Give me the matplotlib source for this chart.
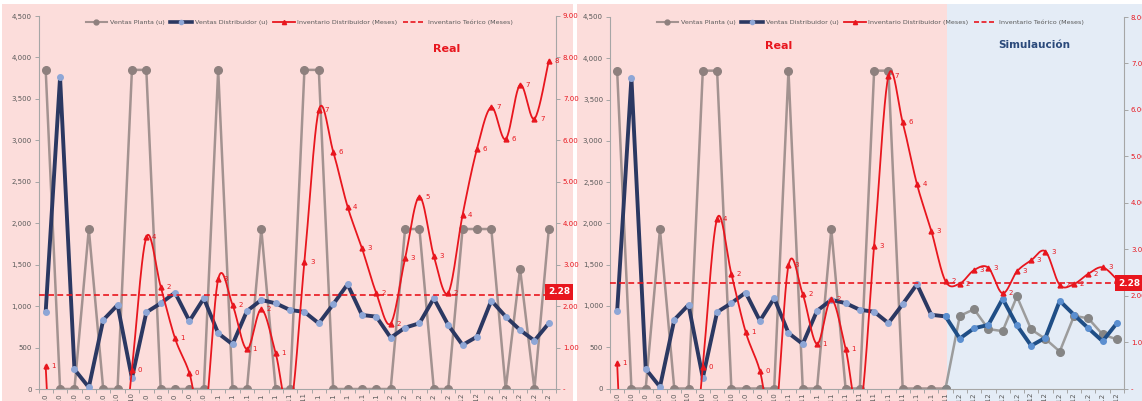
import numpy as np
import matplotlib
matplotlib.use('Agg')
import matplotlib.pyplot as plt
from matplotlib.patches import Rectangle
from matplotlib.lines import Line2D
from matplotlib.ticker import FuncFormatter, MultipleLocator

# --- datos mensuales (36 meses reales) ---
meses = ['ene', 'feb', 'mar', 'abr', 'may', 'jun', 'jul', 'ago', 'sep', 'oct', 'nov', 'dic']
periodos = [m + '-' + a for a in ['10', '11', '12'] for m in meses]

ventas_planta = [3850, 0, 0, 1930, 0, 0, 3850, 3850, 0, 0, 0, 0,
                 3850, 0, 0, 1930, 0, 0, 3850, 3850, 0, 0, 0, 0,
                 0, 1930, 1930, 0, 0, 1930, 1930, 1930, 0, 1450, 0, 1930]
ventas_dist = [933, 3760, 237, 20, 832, 1013, 129, 925, 1034, 1162, 820, 1094,
               672, 539, 941, 1074, 1034, 953, 930, 792, 1022, 1263, 893, 873,
               619, 740, 793, 1094, 772, 531, 631, 1066, 873, 712, 583, 793]
inv_dist = [0.55, -6, -8, -8, -6, -3, 0.46, 3.66, 2.47, 1.22, 0.38, -0.9,
            2.65, 2.03, 0.96, 1.92, 0.86, -0.5, 3.07, 6.73, 5.73, 4.40, 3.40, 2.31,
            1.58, 3.15, 4.64, 3.21, 2.32, 4.20, 5.79, 6.80, 6.03, 7.34, 6.52, 7.92]

# --- simulacion (12 meses que siguen a los primeros 24 reales) ---
sim_planta = [880, 960, 720, 695, 1115, 715, 600, 448, 880, 850, 655, 595]
sim_dist = [605, 730, 770, 1087, 765, 518, 616, 1062, 892, 730, 573, 791]
sim_inv = [2.26, 2.55, 2.60, 2.05, 2.52, 2.76, 2.95, 2.23, 2.25, 2.47, 2.61, 2.35]
n_real2 = 24

inv_teorico = 2.28

W, H = 1142, 401
ROJO = '#E8161E'
ROSA = '#FCDDDB'
CELESTE = '#E4ECF6'
GRIS_EJE = '#A6A6A6'
TXT = '#595959'


def fx(x):
	return x / W


def fy(y):
	return 1 - y / H


def suave(y, n=24):
	# curva suavizada tipo Excel (bezier con puntos de control catmull-rom)
	y = np.asarray(y, float)
	p = np.column_stack([np.arange(len(y), dtype=float), y])
	ext = np.vstack([p[0], p, p[-1]])
	t = np.linspace(0, 1, n)[:, None]
	out = []
	for i in range(len(p) - 1):
		p0, p1, p2, p3 = ext[i], ext[i + 1], ext[i + 2], ext[i + 3]
		c1 = p1 + (p2 - p0) / 6.0
		c2 = p2 - (p3 - p1) / 6.0
		b = (1 - t) ** 3 * p1 + 3 * (1 - t) ** 2 * t * c1 + 3 * (1 - t) * t ** 2 * c2 + t ** 3 * p2
		out.append(b if i == 0 else b[1:])
	b = np.vstack(out)
	return b[:, 0], b[:, 1]


def ejes(caja, ymax_der):
	ax = fig.add_axes(caja)
	ax.patch.set_visible(False)
	ax.set_xlim(-0.5, 35.5)
	ax.set_ylim(0, 4500)
	ax.yaxis.set_major_locator(MultipleLocator(500))
	ax.yaxis.set_major_formatter(FuncFormatter(lambda v, p: '{:,.0f}'.format(v)))
	ax.set_xticks(range(36))
	ax.set_xticklabels(periodos, rotation=90, va='top')
	ax.set_xticks(np.arange(-0.5, 36, 1), minor=True)
	ax.tick_params(axis='x', which='major', length=0, labelsize=5, labelcolor=TXT, pad=3)
	ax.tick_params(axis='x', which='minor', length=3, color=GRIS_EJE, width=0.7)
	ax.tick_params(axis='y', labelsize=5, labelcolor=TXT, length=3, color=GRIS_EJE, width=0.7, pad=2)
	for s in ['top', 'right']:
		ax.spines[s].set_visible(False)
	for s in ['left', 'bottom']:
		ax.spines[s].set_color(GRIS_EJE)
		ax.spines[s].set_linewidth(0.8)

	ax2 = ax.twinx()
	ax2.set_ylim(0, ymax_der)
	ax2.yaxis.set_major_locator(MultipleLocator(1))
	ax2.yaxis.set_major_formatter(FuncFormatter(lambda v, p: '-' if v == 0 else '{:.2f}'.format(v)))
	ax2.tick_params(axis='y', labelsize=5, labelcolor=ROJO, length=3, color=GRIS_EJE, width=0.7, pad=2)
	for s in ['top', 'left', 'bottom']:
		ax2.spines[s].set_visible(False)
	ax2.spines['right'].set_color(GRIS_EJE)
	ax2.spines['right'].set_linewidth(0.8)
	return ax, ax2


def gris(ax, x, y, color='#A39290', mcolor='#8E807E'):
	ax.plot(x, y, color=color, lw=1.8, marker='o', ms=5.5, mfc=mcolor, mec=mcolor, zorder=2)


def azul(ax, x, y, color='#2B3862', mcolor='#8EA6D6'):
	ax.plot(x, y, color=color, lw=2.8, marker='o', ms=4, mfc=mcolor, mec=mcolor, zorder=3)


def inventario(ax2, y):
	xs, ys = suave(y)
	ax2.plot(xs, ys, color=ROJO, lw=1.3, zorder=4)
	x = np.arange(len(y))
	ax2.plot(x, y, ls='none', marker='^', ms=3.5, color=ROJO, zorder=5)
	for i, v in enumerate(y):
		if 0 <= v <= ax2.get_ylim()[1]:
			ax2.annotate('{:.0f}'.format(v), (i, v), xytext=(4, 0), textcoords='offset points',
						 fontsize=5, color=ROJO, va='center', ha='left', zorder=6)
	ax2.axhline(inv_teorico, color=ROJO, lw=1.2, ls=(0, (3.5, 2)), zorder=4)


def leyenda(ax, xc):
	h = [Line2D([], [], color='#A39290', lw=1.5, marker='o', ms=3.5, mfc='#8E807E', mec='#8E807E'),
		 Line2D([], [], color='#2B3862', lw=2.6, marker='o', ms=3, mfc='#8EA6D6', mec='#8EA6D6'),
		 Line2D([], [], color=ROJO, lw=1.3, marker='^', ms=3),
		 Line2D([], [], color=ROJO, lw=1.2, ls=(0, (3, 1.5)))]
	t = ['Ventas Planta (u)', 'Ventas Distribuidor (u)', 'Inventario Distribuidor (Meses)', 'Inventario Teórico (Meses)']
	leg = fig.legend(h, t, loc='center', bbox_to_anchor=(fx(xc), fy(22)), ncol=4, frameon=False,
					 fontsize=4.6, handlelength=3.4, columnspacing=0.9, handletextpad=0.4, labelcolor=TXT)
	return leg


def caja_valor(xc, yc):
	fig.text(fx(xc), fy(yc), '2.28', color='white', fontsize=6.5, fontweight='bold', ha='center', va='center',
			 bbox=dict(boxstyle='square,pad=0.35', fc=ROJO, ec='none'), zorder=10)


fig = plt.figure(figsize=(W / 100, H / 100), dpi=100)
fig.patch.set_facecolor('white')

# fondos
fig.add_artist(Rectangle((fx(2), 0), fx(573) - fx(2), fy(4), transform=fig.transFigure, fc=ROSA, ec='none', zorder=-2))
fig.add_artist(Rectangle((fx(577), 0), fx(947) - fx(577), fy(4), transform=fig.transFigure, fc=ROSA, ec='none', zorder=-2))
fig.add_artist(Rectangle((fx(947), 0), 1 - fx(947), fy(4), transform=fig.transFigure, fc=CELESTE, ec='none', zorder=-2))

x = np.arange(36)

# --- panel real ---
ax, ax2 = ejes([fx(38.5), fy(389), fx(556) - fx(38.5), fy(16) - fy(389)], 9)
gris(ax, x, ventas_planta)
azul(ax, x, ventas_dist)
inventario(ax2, inv_dist)
leyenda(ax, 299)
fig.text(fx(446.5), fy(49), 'Real', color=ROJO, fontsize=8, fontweight='bold', ha='center', va='center')
caja_valor(559, 292)

# --- panel real + simulacion ---
bx, bx2 = ejes([fx(610), fy(388.5), fx(1124) - fx(610), fy(17) - fy(388.5)], 8)
gris(bx, x[:n_real2], ventas_planta[:n_real2])
gris(bx, x[n_real2 - 1:], [ventas_planta[n_real2 - 1]] + sim_planta, color='#9C9C9C', mcolor='#858585')
azul(bx, x[:n_real2], ventas_dist[:n_real2])
azul(bx, x[n_real2 - 1:], [ventas_dist[n_real2 - 1]] + sim_dist, color='#1F4E86', mcolor='#5B8FD0')
inventario(bx2, inv_dist[:n_real2] + sim_inv)
leyenda(bx, 870)
fig.text(fx(779), fy(46), 'Real', color=ROJO, fontsize=8, fontweight='bold', ha='center', va='center')
fig.text(fx(1034), fy(45), 'Simulaución', color='#2B4A7B', fontsize=7.5, fontweight='bold', ha='center', va='center')
caja_valor(1129, 283)

fig.savefig('out.png', dpi=100)
